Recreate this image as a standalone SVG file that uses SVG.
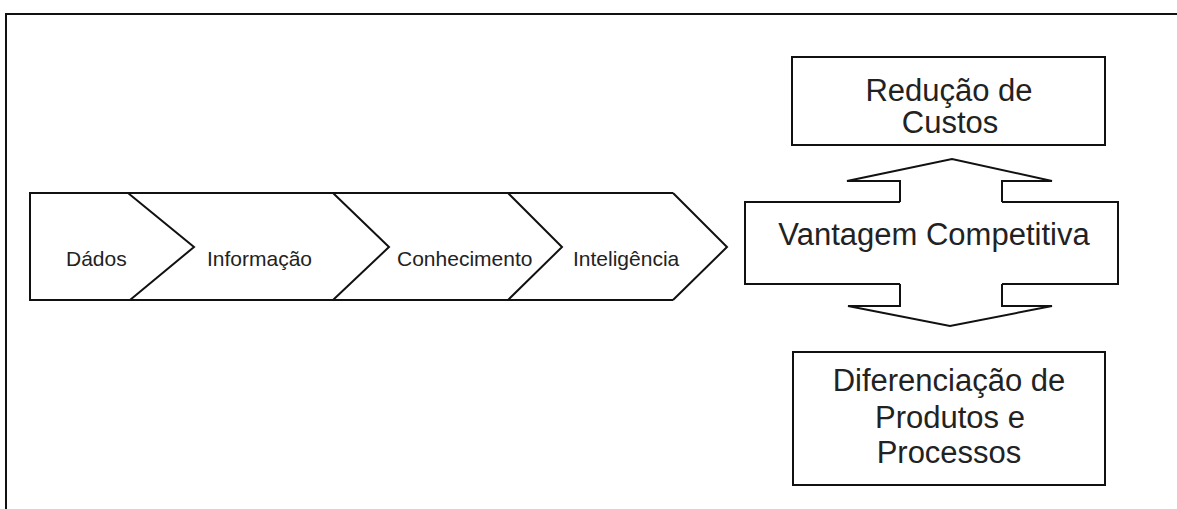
<svg xmlns="http://www.w3.org/2000/svg" width="1177" height="509" viewBox="0 0 1177 509">
<style>
.ln{fill:none;stroke:#111;stroke-width:2;stroke-linejoin:miter}
.sm{font-family:"Liberation Sans",Arial,sans-serif;font-size:21px;fill:#222}
.lg{font-family:"Liberation Sans",Arial,sans-serif;font-size:31px;fill:#222;text-anchor:middle}
</style>
<rect width="1177" height="509" fill="#fff"/>
<g id="frame"><path class="ln" stroke-width="2.5" d="M6,509 V14 H1177"/></g>
<g id="chain">
<path class="ln" d="M673,193 H30 V300 H673"/>
<path class="ln" d="M128,193 L194,247 L130,300"/>
<path class="ln" d="M333,193 L389,247 L333,300"/>
<path class="ln" d="M508,193 L562,247 L508,300"/>
<path class="ln" d="M673,193 L727,247 L673,300"/>
</g>
<g id="dados"><text class="sm" x="66" y="266">Dádos</text></g>
<g id="informacao"><text class="sm" x="207" y="266">Informação</text></g>
<g id="conhecimento"><text class="sm" x="397" y="266">Conhecimento</text></g>
<g id="inteligencia"><text class="sm" x="573" y="266">Inteligência</text></g>
<g id="reducao">
<rect class="ln" x="792" y="57" width="313" height="88"/>
<text class="lg" x="949" y="101">Redução de</text>
<text class="lg" x="950" y="133">Custos</text>
</g>
<g id="vantagem">
<path class="ln" d="M900,202 H745 V284 H900 M1002,284 H1118 V202 H1002"/>
<text class="lg" x="934" y="245">Vantagem Competitiva</text>
</g>
<g id="diferenciacao">
<rect class="ln" x="793" y="352" width="312" height="133"/>
<text class="lg" x="949" y="391">Diferenciação de</text>
<text class="lg" x="950" y="428">Produtos e</text>
<text class="lg" x="949" y="463">Processos</text>
</g>
<g id="connectors">
<polyline class="ln" points="900,202 900,181 847,181 952,159 1052,181 1002,181 1002,202"/>
<polyline class="ln" points="900,284 900,306 848,306 950,326 1052,306 1002,306 1002,284"/>
</g>
</svg>
